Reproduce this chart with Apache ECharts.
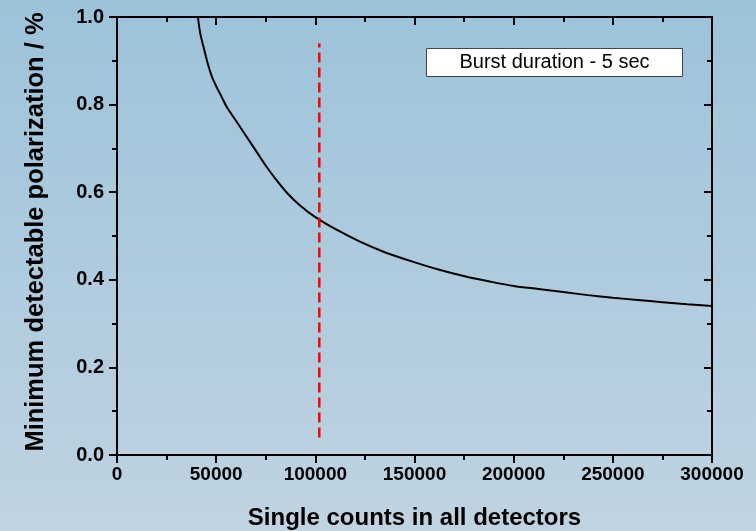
<!DOCTYPE html>
<html>
<head>
<meta charset="utf-8">
<title>Minimum detectable polarization</title>
<script src="https://cdn.jsdelivr.net/npm/echarts@6/dist/echarts.min.js"></script>
<style>
  html, body { margin: 0; padding: 0; }
  #chart { width: 756px; height: 531px; }
</style>
</head>
<body>
<div id="chart"></div>
<script>
// Single counts summed over all detectors
const counts = [40800, 42000, 44000, 46000, 48000, 50000, 52500, 55300, 60000, 65000, 70000,
  75400, 80000, 86000, 92000, 100000, 110000, 122500, 135000, 149400, 162500, 176300,
  188000, 200000, 212500, 225000, 237500, 250000, 262500, 275000, 287500, 300000];
// Minimum detectable polarization (%) for a 5 s burst
const mdp = [1.000, 0.962, 0.925, 0.890, 0.862, 0.842, 0.820, 0.795, 0.763, 0.729, 0.695,
  0.658, 0.630, 0.597, 0.571, 0.543, 0.516, 0.487, 0.463, 0.441, 0.423, 0.407,
  0.396, 0.386, 0.379, 0.372, 0.365, 0.359, 0.354, 0.349, 0.344, 0.340];
// Vertical marker at the expected count rate
const markerCounts = [102000, 102000];
const markerMdp = [0.04, 0.94];

const xTicks = { min: 0, max: 300000, step: 50000 };
const yTicks = { min: 0, max: 1.0, step: 0.2 };
const boxLabel = 'Burst duration - 5 sec';
const xTitle = 'Single counts in all detectors';
const yTitle = 'Minimum detectable polarization / %';

const FONT = 'Liberation Sans, Arial, sans-serif';
const chart = echarts.init(document.getElementById('chart'), null, { renderer: 'canvas' });

const line = { show: true, onZero: false, lineStyle: { color: '#000', width: 2 } };

function mainAxis(extra) {
  return Object.assign({
    type: 'value',
    axisLine: line,
    axisTick: { show: true, inside: false, length: 8, lineStyle: { color: '#000', width: 2 } },
    minorTick: { show: true, splitNumber: 2, length: 5, lineStyle: { color: '#000', width: 2 } },
    splitLine: { show: false },
    minorSplitLine: { show: false }
  }, extra);
}
function mirrorAxis(extra) {
  return Object.assign({
    type: 'value',
    axisLine: line,
    axisTick: { show: true, inside: true, length: 8, lineStyle: { color: '#000', width: 2 } },
    minorTick: { show: true, splitNumber: 2, length: 5, lineStyle: { color: '#000', width: 2 } },
    axisLabel: { show: false },
    splitLine: { show: false },
    minorSplitLine: { show: false }
  }, extra);
}

const option = {
  animation: false,
  backgroundColor: {
    type: 'linear', x: 0, y: 0, x2: 0, y2: 1,
    colorStops: [{ offset: 0, color: '#9cc3da' }, { offset: 1, color: '#c0d3e1' }]
  },
  textStyle: { fontFamily: FONT },
  grid: { left: 117, right: 44, top: 17, bottom: 76, containLabel: false, outerBoundsMode: 'none' },
  xAxis: [
    mainAxis({
      position: 'bottom',
      min: xTicks.min, max: xTicks.max, interval: xTicks.step,
      axisLabel: { color: '#000', fontSize: 19, fontWeight: 'bold', fontFamily: FONT, margin: 10,
        formatter: v => String(v) },
      name: xTitle, nameLocation: 'middle', nameGap: 51,
      nameTextStyle: { color: '#000', fontSize: 24, fontWeight: 'bold', fontFamily: FONT }
    }),
    mirrorAxis({ position: 'top', min: xTicks.min, max: xTicks.max, interval: xTicks.step })
  ],
  yAxis: [
    mainAxis({
      position: 'left',
      min: yTicks.min, max: yTicks.max, interval: yTicks.step,
      axisLabel: { color: '#000', fontSize: 20, fontWeight: 'bold', fontFamily: FONT, margin: 13,
        formatter: v => v.toFixed(1) },
      name: yTitle, nameLocation: 'middle', nameGap: 68, nameRotate: 90,
      nameTextStyle: { color: '#000', fontSize: 25.5, fontWeight: 'bold', fontFamily: FONT,
        padding: [0, 0, 0, 8] }
    }),
    mirrorAxis({ position: 'right', min: yTicks.min, max: yTicks.max, interval: yTicks.step })
  ],
  series: [
    {
      type: 'line',
      data: counts.map((c, i) => [c, mdp[i]]),
      smooth: 0.3,
      showSymbol: false,
      clip: true,
      lineStyle: { color: '#000', width: 2 }
    },
    {
      type: 'line',
      data: markerCounts.map((c, i) => [c, markerMdp[i]]),
      showSymbol: false,
      lineStyle: { color: '#ff0000', width: 2.5, type: [10, 5] }
    }
  ],
  graphic: [
    {
      type: 'group',
      left: 426, top: 48,
      children: [
        { type: 'rect', shape: { x: 0, y: 0, width: 256, height: 28 },
          style: { fill: '#fff', stroke: '#444', lineWidth: 1 } },
        { type: 'text', x: 128, y: 14,
          style: { text: boxLabel, fill: '#000', font: '20px ' + FONT, align: 'center', verticalAlign: 'middle' } }
      ]
    }
  ]
};

chart.setOption(option);
</script>
</body>
</html>
